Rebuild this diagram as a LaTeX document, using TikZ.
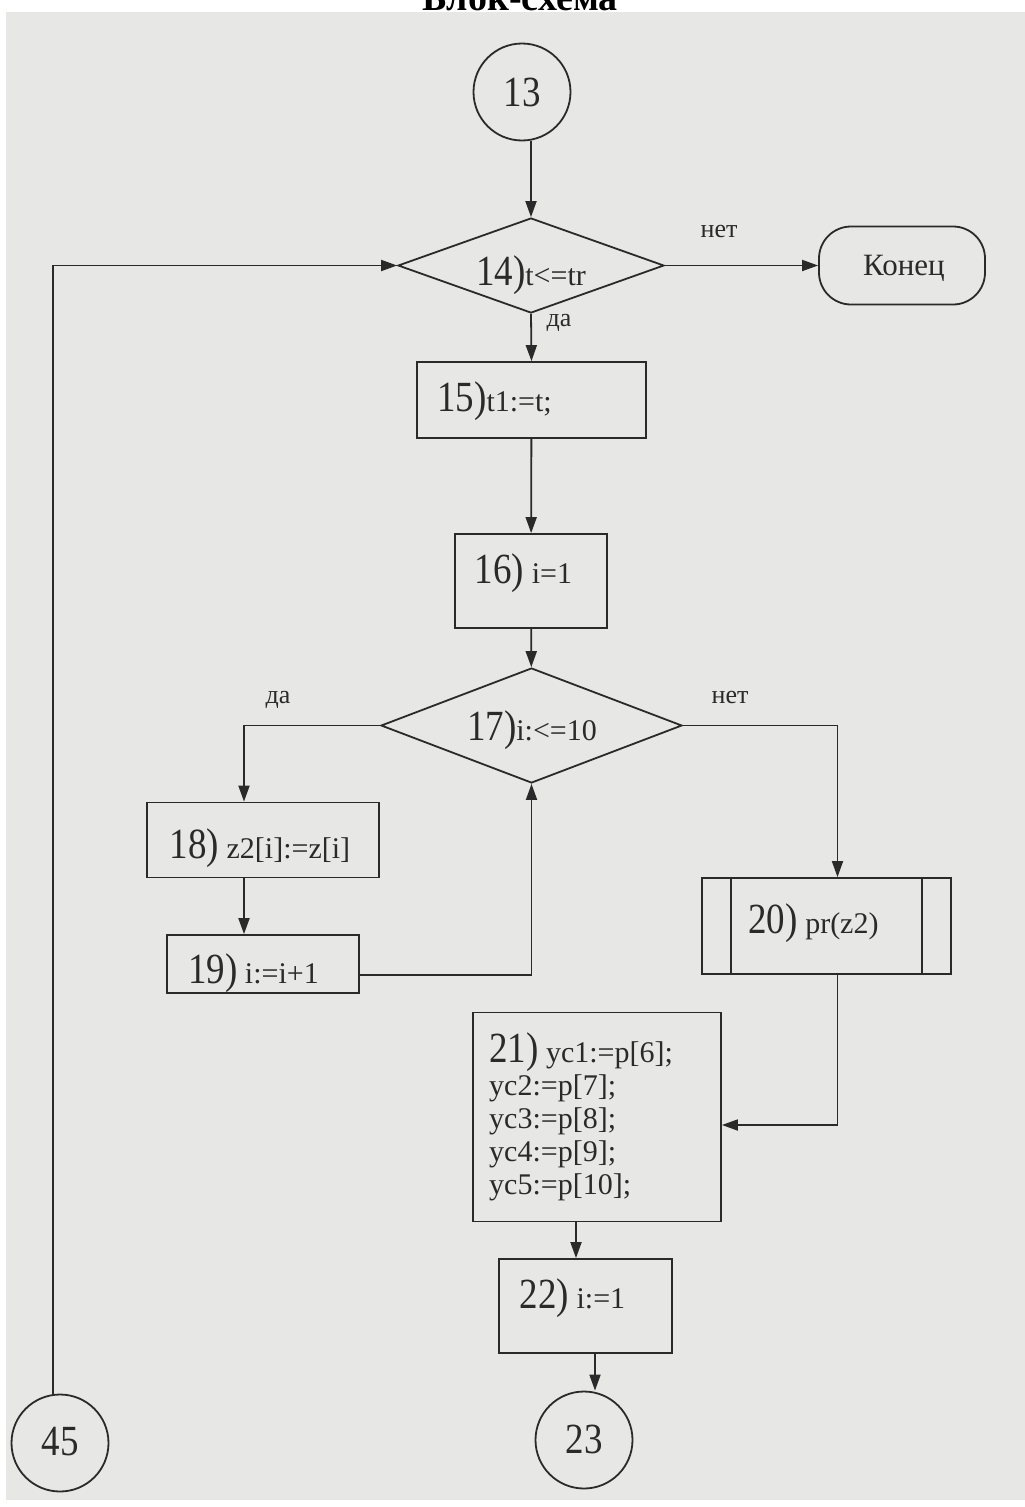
\documentclass[tikz,border=0pt]{standalone}
\usepackage{fontspec}
\setmainfont{Liberation Serif}
\newfontfamily\numfont{Liberation Serif}[FakeStretch=0.86]
\usetikzlibrary{shapes.geometric,arrows.meta}
\definecolor{paper}{HTML}{E7E7E5}
\definecolor{ink}{HTML}{2A2A2A}
\newcommand{\blocknum}[1]{{\numfont\fontsize{43}{46}\selectfont #1}}
\begin{document}
\begin{tikzpicture}[x=1pt,y=-1pt,
	every node/.style={text=ink,font=\fontsize{30}{33}\selectfont},
	box/.style={draw=ink,line width=1.8pt,rectangle,inner sep=0pt},
	decision/.style={draw=ink,line width=1.8pt,diamond,inner sep=0pt},
	connector/.style={draw=ink,line width=1.8pt,circle,inner sep=0pt,minimum size=97pt},
	txt/.style={anchor=base,inner sep=0pt},
	arr/.style={draw=ink,line width=1.8pt,-{Triangle[length=16pt,width=11pt]}},
	line/.style={draw=ink,line width=1.8pt},
	lbl/.style={anchor=base,inner sep=0pt,font=\fontsize{26}{28}\selectfont}]
	\fill[white] (0,0) rectangle (1025,1507);
	\fill[paper] (6,12) rectangle (1025,1500);
	\useasboundingbox (0,0) rectangle (1025,1507);
	\node[anchor=base,font=\bfseries\fontsize{38}{40}\selectfont,text=black] (title) at (520,10) {Блок-схема};
	\node[connector] (c13) at (522,92) {};
	\node[decision,minimum width=266pt,minimum height=95pt] (d14) at (531,265.5) {};
	\node[box,rounded corners=32pt,minimum width=166pt,minimum height=78pt] (end) at (902,265.5) {};
	\node[box,minimum width=229pt,minimum height=76pt] (b15) at (531.5,400) {};
	\node[box,minimum width=152pt,minimum height=94pt] (b16) at (531,581) {};
	\node[decision,minimum width=301pt,minimum height=115pt] (d17) at (531.5,725.5) {};
	\node[box,minimum width=232pt,minimum height=75pt] (b18) at (263,840) {};
	\node[box,minimum width=192pt,minimum height=58pt] (b19) at (263,964) {};
	\node[box,minimum width=249pt,minimum height=96pt] (b20) at (826.5,926) {};
	\draw[line] ([xshift=30pt]b20.north west) -- ([xshift=30pt]b20.south west);
	\draw[line] ([xshift=-30pt]b20.north east) -- ([xshift=-30pt]b20.south east);
	\node[box,minimum width=248pt,minimum height=209pt] (b21) at (597,1117) {};
	\node[box,minimum width=173pt,minimum height=94pt] (b22) at (585.5,1306) {};
	\node[connector] (c23) at (584,1440) {};
	\node[connector] (c45) at (60,1443) {};
	\node[txt] (t13) at (522,106) {\blocknum{13}};
	\node[txt] (t14) at (531,285) {\blocknum{14)}t<=tr};
	\node[txt,font=\fontsize{31}{33}\selectfont] (tend) at (904,275) {Конец};
	\node[txt] (t15) at (494.5,411) {\blocknum{15)}t1:=t;};
	\node[txt] (t16) at (523.5,583) {\blocknum{16)} i=1};
	\node[txt] (t17) at (532,740) {\blocknum{17)}i:<=10};
	\node[txt] (t18) at (260,858) {\blocknum{18)} z2[i]:=z[i]};
	\node[txt] (t19) at (253.5,983) {\blocknum{19)} i:=i+1};
	\node[txt] (t20) at (813.5,933) {\blocknum{20)} pr(z2)};
	\node[txt,anchor=base west,align=left] (t21) at (489,1194) {\blocknum{21)} yc1:=p[6];\\yc2:=p[7];\\yc3:=p[8];\\yc4:=p[9];\\yc5:=p[10];};
	\node[txt] (t22) at (572.5,1308) {\blocknum{22)} i:=1};
	\node[txt] (t23) at (584,1453) {\blocknum{23}};
	\node[txt] (t45) at (60,1455) {\blocknum{45}};
	\draw[arr] (c13.south -| d14.north) -- (d14.north);
	\draw[arr] (d14.east) -- (end.west);
	\node[lbl] (no1) at (719,237) {нет};
	\draw[arr] (d14.south) -- (b15.north);
	\node[lbl] (yes1) at (559,326) {да};
	\draw[arr] (b15) -- (b16);
	\draw[arr] (b16) -- (d17);
	\draw[arr] (d17.west) -| ([xshift=-19pt]b18.north);
	\node[lbl] (yes2) at (278,703) {да};
	\draw[arr] (d17.east) -| ([xshift=11pt]b20.north);
	\node[lbl] (no2) at (730,703) {нет};
	\draw[arr] ([xshift=-19pt]b18.south) -- ([xshift=-19pt]b19.north);
	\draw[arr] ([yshift=-11pt]b19.east) -| (d17.south);
	\draw[arr] ([xshift=11pt]b20.south) |- ([yshift=-8pt]b21.east);
	\draw[arr] ([xshift=-21pt]b21.south) -- ([xshift=-9.5pt]b22.north);
	\draw[arr] ([xshift=9.5pt]b22.south) -- ([xshift=11pt]c23.north);
	\draw[arr] ([xshift=-7pt]c45.north) |- (d14.west);
\end{tikzpicture}
\end{document}
